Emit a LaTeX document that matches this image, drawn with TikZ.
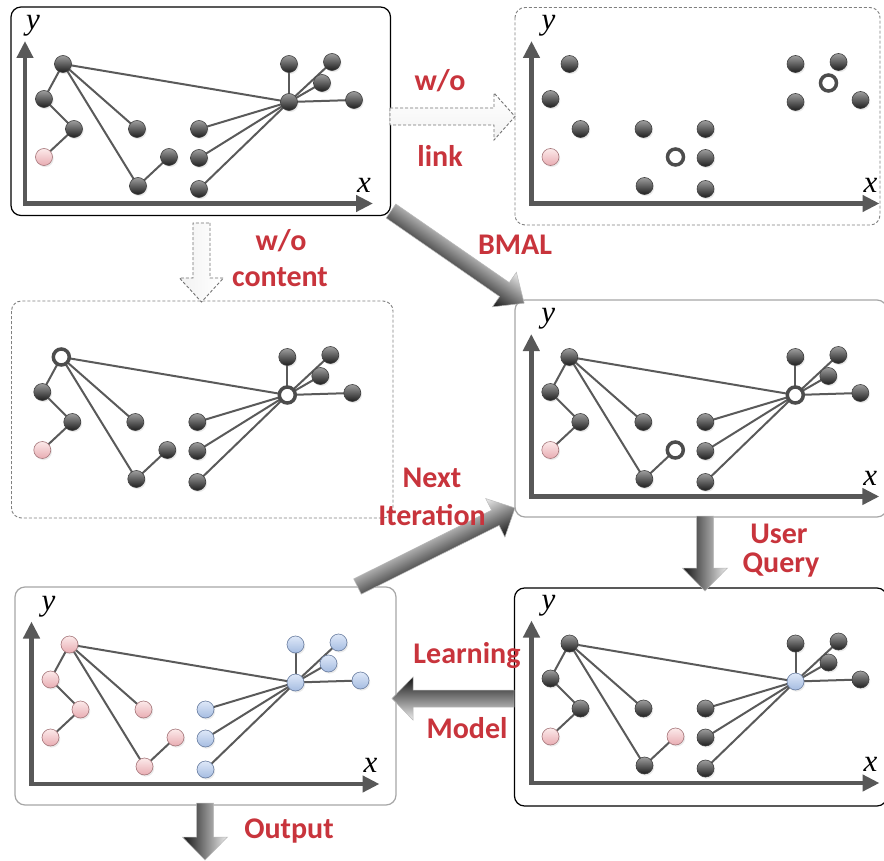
\documentclass[tikz,border=0pt]{standalone}
\usepackage{fontspec}
\newfontfamily\lblfont{Carlito}
\newfontfamily\axisfont{Liberation Serif}
\usetikzlibrary{arrows.meta,shadows}

\definecolor{lblred}{RGB}{200,52,60}
\definecolor{axisgray}{RGB}{88,88,88}
\definecolor{edgegray}{RGB}{90,90,90}
\definecolor{pinktop}{RGB}{252,234,234}
\definecolor{pinkbot}{RGB}{232,172,178}
\definecolor{pinkline}{RGB}{165,118,122}
\definecolor{bluetop}{RGB}{222,232,248}
\definecolor{bluebot}{RGB}{165,188,225}
\definecolor{blueline}{RGB}{105,125,160}

\pgfdeclarelayer{panels}
\pgfdeclarelayer{edges}
\pgfsetlayers{panels,edges,main}

\tikzset{
  gnode/.style={circle, inner sep=0pt, minimum size=17pt, line width=0.6pt,
    drop shadow={shadow xshift=1.2pt, shadow yshift=-1.6pt, opacity=0.16}},
  darknode/.style={gnode, top color=black!38, bottom color=black!88, draw=black!75},
  pinknode/.style={gnode, top color=pinktop, bottom color=pinkbot, draw=pinkline},
  bluenode/.style={gnode, top color=bluetop, bottom color=bluebot, draw=blueline},
  ringnode/.style={circle, inner sep=0pt, minimum size=16pt, fill=white,
    draw=black!70, line width=3.5pt},
  % default look of each graph vertex
  s-a/.style={darknode}, s-b/.style={darknode}, s-c/.style={darknode},
  s-d/.style={pinknode}, s-e/.style={darknode}, s-f/.style={darknode},
  s-g/.style={darknode}, s-h/.style={darknode}, s-i/.style={darknode},
  s-j/.style={darknode}, s-k/.style={darknode}, s-l/.style={darknode},
  s-m/.style={darknode}, s-n/.style={darknode}, s-o/.style={darknode},
  linkline/.style={draw=edgegray, line width=2pt},
  axisline/.style={draw=axisgray, line width=4.5pt, line join=miter,
    {Triangle[length=17pt,width=16pt]}-{Triangle[length=17pt,width=16pt]}},
  axislabel/.style={font=\axisfont\itshape\fontsize{31}{31}\selectfont, inner sep=0pt},
  lbl/.style={font=\lblfont\bfseries\fontsize{30}{30}\selectfont, text=lblred,
    anchor=base, inner sep=0pt},
  panelbox/.style={rounded corners=10pt, line width=1.2pt},
  dashedbox/.style={panelbox, draw=black!50, line width=0.9pt, dash pattern=on 3pt off 2pt},
  hollowarrow/.style={draw=black!55, line width=0.9pt, dash pattern=on 3pt off 2pt,
    top color=white, bottom color=gray!10},
  shadedarrow/.style={draw=gray!55, line width=0.5pt, top color=gray!15,
    middle color=gray!55, bottom color=black!92},
}

% vertices of one graph, shifted by (#2,#3), named #1a ... #1o
\newcommand\placegraph[3]{%
  \foreach \n/\x/\y in {a/63/64,b/44/99,c/74/129,d/44/157,e/137/129,f/138/186,
      g/169/157,h/199/129,i/199/158,j/199/189,k/289/102,l/289/64,m/332/62,
      n/322/83,o/354/100}
    {\node[s-\n] (#1\n) at ({#2+\x},{#3+\y}) {};}}

% links of one graph
\newcommand\linkgraph[1]{%
  \begin{pgfonlayer}{edges}
  \foreach \u/\v in {a/k,a/b,b/c,c/d,a/e,a/f,f/g,k/h,k/i,k/j,k/l,k/m,k/n,k/o}
    {\draw[linkline] (#1\u.center) -- (#1\v.center);}
  \end{pgfonlayer}}

% axes of one panel, shifted by (#2,#3); #4 = x position of the y label
\newcommand\panelaxes[4]{%
  \coordinate (#1o) at ({#2+25},{#3+203.5});
  \coordinate (#1yt) at ({#2+25},{#3+41});
  \coordinate (#1xt) at ({#2+373},{#3+203.5});
  \draw[axisline] (#1yt) -- (#1o) -- (#1xt);
  \node[axislabel] (#1ylab) at ({#2+#4},{#3+26}) {y};
  \node[axislabel] (#1xlab) at ({#2+364},{#3+185}) {x};}

% block arrow: #1 style, #2 name of its tail, #3 tail point, #4 direction,
% #5 length, #6 head length, #7 half width of the head
\newcommand\blockarrow[7]{%
  \coordinate (#2) at #3;
  \begin{scope}[transform canvas={shift={#3},rotate=#4}]
    \path[#1] (0,-8.5) -- ({#5-#6},-8.5) -- ({#5-#6},-#7) -- (#5,0)
      -- ({#5-#6},#7) -- ({#5-#6},8.5) -- (0,8.5) -- cycle;
  \end{scope}}

\begin{document}
\begin{tikzpicture}[x=1pt,y=-1pt]
\useasboundingbox (0,0) rectangle (884,861);

\begin{pgfonlayer}{panels}
  \fill[white] (0,0) rectangle (884,861);
  \draw[panelbox, draw=black] (11,7) rectangle (390.5,215.5);
  \draw[dashedbox] (515,7.5) rectangle (880,225);
  \draw[dashedbox] (11.5,301) rectangle (393,518);
  \draw[panelbox, draw=gray!70] (515,300) rectangle (887,517);
  \draw[panelbox, draw=gray!70] (15,587) rectangle (396,805);
  \draw[panelbox, draw=black] (514.5,588) rectangle (887,806);
\end{pgfonlayer}

% top left: the linked graph
\placegraph{p}{0}{0}
\linkgraph{p}
\panelaxes{p}{0}{0}{33}

% top right: without links
\begin{scope}[s-g/.style={ringnode}, s-n/.style={ringnode}]
  \placegraph{q}{506.5}{0}
\end{scope}
\panelaxes{q}{506.5}{0}{42}

% middle left: without content
\begin{scope}[s-a/.style={ringnode}, s-k/.style={ringnode}]
  \placegraph{r}{-1.7}{293}
\end{scope}
\linkgraph{r}

% middle right: BMAL selection
\begin{scope}[s-g/.style={ringnode}, s-k/.style={ringnode}]
  \placegraph{s}{506.3}{293}
\end{scope}
\linkgraph{s}
\panelaxes{s}{506.3}{293}{42}

% bottom left: learned labels
\begin{scope}[s-a/.style={pinknode}, s-b/.style={pinknode}, s-c/.style={pinknode},
    s-e/.style={pinknode}, s-f/.style={pinknode}, s-g/.style={pinknode},
    s-h/.style={bluenode}, s-i/.style={bluenode}, s-j/.style={bluenode},
    s-k/.style={bluenode}, s-l/.style={bluenode}, s-m/.style={bluenode},
    s-n/.style={bluenode}, s-o/.style={bluenode}]
  \placegraph{t}{6.5}{580.5}
\end{scope}
\linkgraph{t}
\panelaxes{t}{6.5}{580.5}{42}

% bottom right: after the user query
\begin{scope}[s-g/.style={pinknode}, s-k/.style={bluenode}]
  \placegraph{u}{506.5}{579.5}
\end{scope}
\linkgraph{u}
\panelaxes{u}{506.5}{579.5}{42}

% block arrows between the panels
\blockarrow{hollowarrow}{wolink}{(390,116.5)}{0}{125}{21}{23.5}
\blockarrow{hollowarrow}{wocontent}{(201.5,223)}{-90}{79}{24}{22}
\blockarrow{shadedarrow}{bmal}{(391,211)}{-34.7}{162}{24}{21}
\blockarrow{shadedarrow}{query}{(705,516)}{-90}{75}{23}{22.5}
\blockarrow{shadedarrow}{learn}{(514,698.5)}{180}{122}{21}{21.5}
\blockarrow{shadedarrow}{iter}{(357.5,586.5)}{26.5}{176}{22}{21.5}
\blockarrow{shadedarrow}{output}{(205,803)}{-90}{57}{23}{22.5}

% arrow labels
\node[lbl] (l1) at (440,91) {w/o};
\node[lbl] (l2) at (440,167) {link};
\node[lbl] (l3) at (281,251) {w/o};
\node[lbl] (l4) at (280,287) {content};
\node[lbl] (l5) at (515,255) {BMAL};
\node[lbl] (l6) at (432,487) {Next};
\node[lbl] (l7) at (432,525) {Iteration};
\node[lbl] (l8) at (779,543) {User};
\node[lbl] (l9) at (781,572) {Query};
\node[lbl] (l10) at (467,663) {Learning};
\node[lbl] (l11) at (467,738) {Model};
\node[lbl] (l12) at (289,838) {Output};
\end{tikzpicture}
\end{document}
